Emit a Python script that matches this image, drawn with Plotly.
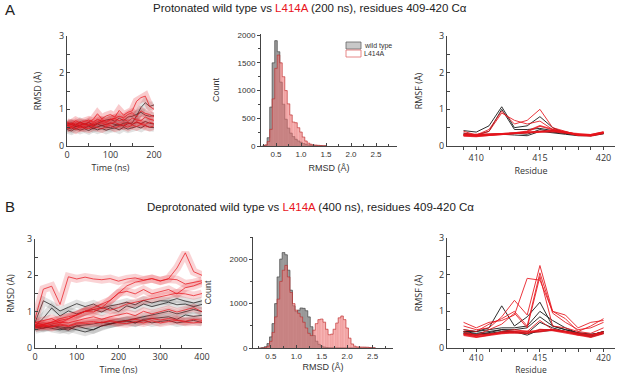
import plotly.graph_objects as go

# ---------------- data ----------------
TIME_A = [0, 10, 20, 30, 40, 50, 60, 70, 80, 90, 100, 110, 120, 130, 140, 150, 160, 170, 180, 190, 200]
RMSD_A_WT = [
    [0.50, 0.46, 0.53, 0.55, 0.49, 0.54, 0.48, 0.52, 0.56, 0.51, 0.50, 0.55, 0.59, 0.54, 0.61, 0.63, 0.82, 1.05, 1.18, 1.08, 1.12],
    [0.60, 0.63, 0.57, 0.66, 0.59, 0.64, 0.57, 0.63, 0.67, 0.71, 0.73, 0.67, 0.76, 0.69, 0.79, 0.81, 0.86, 0.92, 0.84, 0.81, 0.83],
    [0.45, 0.41, 0.48, 0.43, 0.47, 0.42, 0.49, 0.44, 0.48, 0.43, 0.47, 0.49, 0.44, 0.51, 0.46, 0.50, 0.53, 0.49, 0.56, 0.51, 0.50],
    [0.55, 0.59, 0.53, 0.57, 0.61, 0.56, 0.54, 0.60, 0.55, 0.59, 0.63, 0.59, 0.56, 0.62, 0.64, 0.59, 0.65, 0.61, 0.67, 0.62, 0.60],
]
RMSD_A_MUT = [
    [0.55, 0.61, 0.57, 0.63, 0.59, 0.66, 0.72, 0.88, 0.74, 0.82, 0.86, 0.79, 0.97, 0.84, 0.92, 0.96, 1.22, 1.32, 1.36, 1.08, 1.00],
    [0.50, 0.53, 0.56, 0.49, 0.54, 0.57, 0.61, 0.66, 0.71, 0.67, 0.73, 0.76, 0.81, 0.77, 0.86, 0.91, 0.79, 0.96, 0.89, 0.86, 0.80],
    [0.60, 0.57, 0.63, 0.55, 0.61, 0.57, 0.56, 0.61, 0.63, 0.57, 0.61, 0.64, 0.59, 0.57, 0.63, 0.59, 0.66, 0.61, 0.59, 0.65, 0.60],
    [0.48, 0.51, 0.45, 0.53, 0.49, 0.47, 0.53, 0.49, 0.47, 0.53, 0.56, 0.49, 0.54, 0.56, 0.51, 0.57, 0.53, 0.59, 0.54, 0.51, 0.55],
    [0.65, 0.61, 0.69, 0.63, 0.67, 0.71, 0.65, 0.73, 0.67, 0.64, 0.71, 0.75, 0.69, 0.73, 0.67, 0.76, 0.71, 0.69, 0.79, 0.73, 0.70],
]

TIME_B = [0, 20, 40, 60, 80, 100, 120, 140, 160, 180, 200, 220, 240, 260, 280, 300, 320, 340, 360, 380, 400]
RMSD_B_WT = [
    [0.70, 1.30, 1.18, 1.02, 1.12, 1.22, 1.14, 1.21, 1.09, 1.16, 1.20, 1.26, 1.19, 1.31, 1.24, 1.30, 1.29, 1.36, 1.29, 1.24, 1.30],
    [0.60, 0.82, 1.10, 0.88, 1.02, 0.94, 1.01, 1.06, 0.99, 1.11, 1.00, 1.16, 1.09, 1.21, 1.14, 1.21, 1.26, 1.19, 1.21, 1.14, 1.20],
    [0.50, 0.56, 0.61, 0.54, 0.49, 0.61, 0.54, 0.50, 0.61, 0.66, 0.71, 0.76, 0.81, 0.86, 0.91, 0.96, 1.01, 0.94, 1.01, 1.06, 1.00],
    [0.60, 0.54, 0.61, 0.57, 0.55, 0.61, 0.63, 0.66, 0.71, 0.67, 0.73, 0.76, 0.69, 0.79, 0.81, 0.83, 0.86, 0.79, 0.91, 0.87, 0.90],
    [0.55, 0.61, 0.54, 0.50, 0.56, 0.49, 0.44, 0.51, 0.61, 0.66, 0.71, 0.73, 0.69, 0.76, 0.69, 0.73, 0.76, 0.69, 0.73, 0.76, 0.70],
]
RMSD_B_MUT = [
    [0.80, 1.62, 1.70, 1.20, 1.96, 1.90, 1.95, 1.90, 1.88, 1.91, 1.84, 1.90, 1.93, 1.87, 1.91, 1.85, 1.90, 1.88, 1.76, 1.80, 1.85],
    [0.70, 0.76, 0.81, 0.69, 0.81, 0.91, 1.01, 1.06, 1.11, 1.31, 1.51, 1.71, 1.81, 1.86, 1.91, 1.84, 1.91, 2.20, 2.62, 2.10, 2.00],
    [0.60, 0.66, 0.71, 0.76, 0.81, 0.91, 1.01, 1.11, 1.21, 1.31, 1.51, 1.56, 1.49, 1.61, 1.49, 1.56, 1.61, 1.49, 1.66, 1.71, 1.80],
    [0.70, 0.64, 0.71, 0.81, 0.86, 0.91, 1.01, 0.99, 1.11, 1.04, 1.11, 1.21, 1.26, 1.31, 1.36, 1.41, 1.46, 1.51, 1.49, 1.44, 1.50],
    [0.65, 0.59, 0.66, 0.71, 0.69, 0.76, 0.81, 0.86, 0.79, 0.86, 0.91, 0.96, 0.89, 1.01, 0.94, 1.01, 1.06, 0.99, 1.06, 1.11, 1.00],
    [0.60, 0.63, 0.59, 0.66, 0.61, 0.69, 0.71, 0.73, 0.69, 0.76, 0.71, 0.76, 0.79, 0.74, 0.81, 0.77, 0.81, 0.77, 0.74, 0.79, 0.76],
    [0.55, 0.61, 0.57, 0.63, 0.59, 0.66, 0.67, 0.69, 0.71, 0.73, 0.69, 0.67, 0.73, 0.69, 0.75, 0.69, 0.73, 0.76, 0.71, 0.69, 0.72],
]

HIST_A_BINS = [0.25, 0.30, 0.35, 0.40, 0.45, 0.50, 0.55, 0.60, 0.65, 0.70, 0.75, 0.80, 0.85,
               0.90, 0.95, 1.00, 1.05, 1.10, 1.15, 1.20, 1.25, 1.30, 1.35, 1.40, 1.45, 1.50]
HIST_A_WT = [0, 10, 150, 700, 1500, 1900, 1700, 1150, 750, 480, 320, 230, 170,
             120, 90, 65, 45, 30, 20, 12, 8, 5, 3, 2, 1, 1]
HIST_A_MUT = [0, 20, 80, 300, 850, 1400, 1640, 1500, 1250, 1000, 760, 560, 430,
              420, 330, 250, 160, 90, 50, 30, 20, 15, 10, 8, 5, 5]

HIST_B_BINS = [0.30, 0.35, 0.40, 0.45, 0.50, 0.55, 0.60, 0.65, 0.70, 0.75, 0.80, 0.85, 0.90, 0.95,
               1.00, 1.05, 1.10, 1.15, 1.20, 1.25, 1.30, 1.35, 1.40, 1.45, 1.50, 1.55, 1.60, 1.65,
               1.70, 1.75, 1.80, 1.85, 1.90, 1.95, 2.00, 2.05, 2.10, 2.15, 2.20, 2.25, 2.30, 2.35,
               2.40, 2.45, 2.50, 2.55]
HIST_B_WT = [0, 5, 30, 100, 250, 550, 1000, 1600, 2000, 2150, 2100, 1750, 1300, 950,
             820, 850, 900, 890, 840, 700, 480, 280, 150, 80, 40, 20, 10, 5,
             3, 2, 1, 1, 0, 0, 0, 0, 0, 0, 0, 0, 0, 0,
             0, 0, 0, 0]
HIST_B_MUT = [0, 0, 10, 40, 150, 350, 700, 1100, 1500, 1750, 1860, 1600, 1250, 1000,
              850, 780, 700, 580, 450, 330, 280, 400, 550, 640, 650, 580, 420, 300,
              310, 420, 560, 680, 720, 640, 450, 220, 90, 40, 25, 20, 20, 18,
              15, 10, 5, 3]

RESIDUES = [409, 410, 411, 412, 413, 414, 415, 416, 417, 418, 419, 420]
RMSF_A_WT = [
    [0.42, 0.38, 0.55, 1.07, 0.50, 0.55, 0.80, 0.50, 0.35, 0.30, 0.30, 0.35],
    [0.35, 0.30, 0.40, 1.00, 0.45, 0.45, 0.48, 0.42, 0.35, 0.30, 0.28, 0.35],
    [0.30, 0.28, 0.30, 0.32, 0.30, 0.28, 0.40, 0.35, 0.32, 0.28, 0.28, 0.33],
    [0.32, 0.30, 0.32, 0.33, 0.35, 0.32, 0.45, 0.38, 0.35, 0.30, 0.30, 0.35],
]
RMSF_A_MUT = [
    [0.40, 0.30, 0.45, 0.95, 0.60, 0.70, 1.00, 0.50, 0.40, 0.30, 0.30, 0.38],
    [0.35, 0.30, 0.40, 0.90, 0.70, 0.60, 0.68, 0.45, 0.38, 0.30, 0.28, 0.36],
    [0.30, 0.28, 0.30, 0.32, 0.35, 0.40, 0.55, 0.45, 0.38, 0.30, 0.28, 0.35],
    [0.28, 0.26, 0.30, 0.32, 0.36, 0.38, 0.40, 0.42, 0.38, 0.30, 0.30, 0.38],
    [0.30, 0.30, 0.32, 0.33, 0.35, 0.36, 0.38, 0.40, 0.36, 0.32, 0.30, 0.37],
]
RMSF_B_WT = [
    [0.45, 0.45, 0.55, 1.15, 0.60, 0.85, 1.25, 0.60, 0.50, 0.40, 0.35, 0.45],
    [0.50, 0.45, 0.50, 0.55, 0.55, 0.60, 1.00, 0.75, 0.55, 0.40, 0.35, 0.45],
    [0.45, 0.40, 0.45, 0.50, 0.50, 0.55, 0.85, 0.60, 0.50, 0.42, 0.38, 0.42],
    [0.40, 0.35, 0.42, 0.50, 0.45, 0.40, 0.70, 0.55, 0.45, 0.40, 0.35, 0.40],
    [0.42, 0.38, 0.40, 0.45, 0.45, 0.35, 0.50, 0.50, 0.45, 0.38, 0.32, 0.45],
    [0.38, 0.35, 0.38, 0.42, 0.42, 0.40, 0.45, 0.48, 0.45, 0.38, 0.30, 0.40],
]
RMSF_B_MUT = [
    [0.70, 0.55, 0.70, 0.75, 0.90, 1.90, 1.85, 1.00, 0.90, 0.55, 0.70, 0.75],
    [0.60, 0.50, 0.55, 0.85, 1.30, 0.90, 2.25, 1.00, 0.80, 0.45, 0.60, 0.80],
    [0.50, 0.45, 0.65, 0.80, 1.00, 0.60, 2.05, 0.95, 0.70, 0.50, 0.55, 0.70],
    [0.45, 0.35, 0.50, 0.65, 0.95, 0.55, 1.95, 0.60, 0.55, 0.45, 0.40, 0.55],
    [0.40, 0.30, 0.35, 0.45, 0.50, 0.45, 0.75, 0.50, 0.45, 0.35, 0.35, 0.45],
    [0.35, 0.30, 0.35, 0.40, 0.42, 0.40, 0.50, 0.48, 0.42, 0.35, 0.30, 0.40],
    [0.38, 0.35, 0.38, 0.42, 0.45, 0.45, 0.45, 0.50, 0.45, 0.40, 0.35, 0.42],
]

# ---------------- figure ----------------
W, H = 617, 376
BLACK = "#1a1a1a"
RED = "#e8141c"

def px_x(a, b):
    return [a / W, b / W]

def px_y(top, bottom):
    return [1 - bottom / H, 1 - top / H]

fig = go.Figure()

def add_series(xs, ys, color, xa, ya, halo=True, width=0.8, opacity=0.9, halo_op=0.12):
    if halo:
        fig.add_trace(go.Scatter(x=xs, y=ys, mode="lines", line=dict(color=color, width=8),
                                 opacity=halo_op, xaxis=xa, yaxis=ya, showlegend=False, hoverinfo="skip"))
    fig.add_trace(go.Scatter(x=xs, y=ys, mode="lines", line=dict(color=color, width=width),
                             opacity=opacity, xaxis=xa, yaxis=ya, showlegend=False))

# A1
for s in RMSD_A_WT:
    add_series(TIME_A, s, BLACK, "x", "y", halo_op=0.12)
for s in RMSD_A_MUT:
    add_series(TIME_A, s, RED, "x", "y", halo_op=0.22)
# B1
for s in RMSD_B_WT:
    add_series(TIME_B, s, BLACK, "x4", "y4", halo_op=0.12)
for s in RMSD_B_MUT:
    add_series(TIME_B, s, RED, "x4", "y4", halo_op=0.18)

GRAY_FILL = "rgba(140,140,140,0.85)"
GRAY_LINE = "#4a4a4a"
RED_FILL = "rgba(238,115,115,0.55)"
RED_LINE = "rgba(190,40,40,0.85)"

def add_hist(bins, counts, fill, line, xa, ya):
    fig.add_trace(go.Scatter(x=bins, y=counts, mode="lines", line=dict(shape="hvh", color=line, width=0.7),
                             fill="tozeroy", fillcolor=fill, xaxis=xa, yaxis=ya, showlegend=False))
    fig.add_trace(go.Bar(x=bins, y=counts, width=0.05, marker=dict(color="rgba(0,0,0,0)",
                         line=dict(color=line, width=0.3)), opacity=0.5,
                         xaxis=xa, yaxis=ya, showlegend=False, hoverinfo="skip"))

add_hist(HIST_A_BINS, HIST_A_WT, GRAY_FILL, GRAY_LINE, "x2", "y2")
add_hist(HIST_A_BINS, HIST_A_MUT, RED_FILL, RED_LINE, "x2", "y2")
add_hist(HIST_B_BINS, HIST_B_WT, GRAY_FILL, GRAY_LINE, "x5", "y5")
add_hist(HIST_B_BINS, HIST_B_MUT, RED_FILL, RED_LINE, "x5", "y5")

# A3 / B3 RMSF
for s in RMSF_A_WT:
    add_series(RESIDUES, s, BLACK, "x3", "y3", halo=False, width=1.0)
for i, s in enumerate(RMSF_A_MUT):
    add_series(RESIDUES, s, RED, "x3", "y3", halo=False, width=1.8 if i >= 2 else 1.0, opacity=0.85)
for s in RMSF_B_WT:
    add_series(RESIDUES, s, BLACK, "x6", "y6", halo=False, width=1.0)
for i, s in enumerate(RMSF_B_MUT):
    add_series(RESIDUES, s, RED, "x6", "y6", halo=False, width=1.0 if i < 5 else 1.8, opacity=0.85)

TICKFONT = dict(family="Open Sans", size=9, color="#333")
HFONT = dict(family="Liberation Sans", size=8, color="#333")
TITLEFONT = dict(family="Open Sans", size=9, color="#333")
HTITLE = dict(family="Liberation Sans", size=9, color="#333")
AX = dict(showline=True, linecolor="#444", linewidth=1, showgrid=False, zeroline=False,
          ticks="outside", ticklen=3, tickcolor="#444", tickfont=TICKFONT, automargin=False)

layout_axes = dict(
    # A1
    xaxis=dict(AX, domain=px_x(67, 154), range=[0, 200], tickvals=[0, 100, 200], anchor="y",
               minor=dict(dtick=50, ticks="inside", ticklen=3, tickcolor="#444"), ticks="inside",
               title=dict(text="Time (ns)", font=TITLEFONT, standoff=2)),
    yaxis=dict(AX, domain=px_y(36, 146), range=[0, 3], tickvals=[0, 1, 2, 3], anchor="x",
               minor=dict(dtick=0.5, ticks="inside", ticklen=3, tickcolor="#444"), ticks="inside",
               title=dict(text="RMSD (Å)", font=TITLEFONT, standoff=15)),
    # A2
    xaxis2=dict(AX, domain=px_x(261, 397), range=[0.2, 2.92], tickvals=[0.5, 1.0, 1.5, 2.0, 2.5],
                ticktext=["0.5", "1.0", "1.5", "2.0", "2.5"], anchor="y2", tickfont=HFONT,
                ticks="inside", minor=dict(dtick=0.25, ticks="inside", ticklen=2, tickcolor="#444"),
                title=dict(text="RMSD (Å)", font=HTITLE, standoff=7)),
    yaxis2=dict(AX, domain=px_y(34, 146), range=[0, 2020], tickvals=[0, 500, 1000, 1500, 2000], anchor="x2",
                tickfont=HFONT, minor=dict(dtick=250, ticks="outside", ticklen=2, tickcolor="#444"),
                title=dict(text="Count", font=HTITLE, standoff=16)),
    # A3
    xaxis3=dict(AX, domain=px_x(447, 615), range=[407.7, 420.9], tickvals=[410, 415, 420], anchor="y3",
                minor=dict(tickvals=RESIDUES, ticks="outside", ticklen=3, tickcolor="#444"),
                title=dict(text="Residue", font=TITLEFONT, standoff=1)),
    yaxis3=dict(AX, domain=px_y(36, 146), range=[0, 3], tickvals=[0, 1, 2, 3], anchor="x3",
                minor=dict(dtick=0.5, ticks="inside", ticklen=3, tickcolor="#444"), ticks="inside",
                title=dict(text="RMSF (Å)", font=TITLEFONT, standoff=14)),
    # B1
    xaxis4=dict(AX, domain=px_x(35, 202), range=[0, 400], tickvals=[0, 100, 200, 300, 400], anchor="y4",
                minor=dict(dtick=50, ticks="inside", ticklen=3, tickcolor="#444"), ticks="inside",
                title=dict(text="Time (ns)", font=TITLEFONT, standoff=2)),
    yaxis4=dict(AX, domain=px_y(239, 348), range=[0, 3], tickvals=[0, 1, 2, 3], anchor="x4",
                minor=dict(dtick=0.5, ticks="inside", ticklen=3, tickcolor="#444"), ticks="inside",
                title=dict(text="RMSD (Å)", font=TITLEFONT, standoff=10)),
    # B2
    xaxis5=dict(AX, domain=px_x(253, 393), range=[0.15, 2.9], tickvals=[0.5, 1.0, 1.5, 2.0, 2.5],
                ticktext=["0.5", "1.0", "1.5", "2.0", "2.5"], anchor="y5", tickfont=HFONT,
                ticks="inside", minor=dict(dtick=0.25, ticks="inside", ticklen=2, tickcolor="#444"),
                title=dict(text="RMSD (Å)", font=HTITLE, standoff=4)),
    yaxis5=dict(AX, domain=px_y(237, 348), range=[0, 2500], tickvals=[0, 1000, 2000], anchor="x5",
                tickfont=HFONT, minor=dict(dtick=500, ticks="outside", ticklen=2, tickcolor="#444"),
                title=dict(text="Count", font=HTITLE, standoff=16)),
    # B3
    xaxis6=dict(AX, domain=px_x(447, 615), range=[407.7, 420.9], tickvals=[410, 415, 420], anchor="y6",
                minor=dict(tickvals=RESIDUES, ticks="outside", ticklen=3, tickcolor="#444"),
                tickfont=dict(family="Open Sans", size=8.5, color="#333"), ticklabelstandoff=-1,
                title=dict(text="Residue", font=dict(family="Open Sans", size=8.5, color="#333"), standoff=4)),
    yaxis6=dict(AX, domain=px_y(238, 348), range=[0, 3], tickvals=[0, 1, 2, 3], anchor="x6",
                minor=dict(dtick=0.5, ticks="inside", ticklen=3, tickcolor="#444"), ticks="inside",
                title=dict(text="RMSF (Å)", font=TITLEFONT, standoff=14)),
)

fig.update_layout(
    width=W, height=H,
    margin=dict(l=0, r=0, t=0, b=0),
    paper_bgcolor="white", plot_bgcolor="white",
    barmode="overlay", bargap=0,
    showlegend=False,
    **layout_axes,
)

# small legend in the A histogram panel
fig.add_shape(type="rect", xref="paper", yref="paper",
              x0=346 / W, x1=361 / W, y0=1 - 49 / H, y1=1 - 42 / H,
              fillcolor="#c8c8c8", line=dict(color="#666", width=0.8))
fig.add_shape(type="rect", xref="paper", yref="paper",
              x0=346 / W, x1=361 / W, y0=1 - 57 / H, y1=1 - 50 / H,
              fillcolor="white", line=dict(color="#e06a6a", width=0.8))
LFONT = dict(family="Liberation Sans", size=7, color="#333")
fig.add_annotation(x=362 / W, y=1 - 45.5 / H, xref="paper", yref="paper", showarrow=False,
                   text="wild type", font=LFONT, xanchor="left", yanchor="middle")
fig.add_annotation(x=362 / W, y=1 - 53.5 / H, xref="paper", yref="paper", showarrow=False,
                   text="L414A", font=LFONT, xanchor="left", yanchor="middle")

TFONT = dict(family="Liberation Sans", size=11.5, color="#222")
fig.add_annotation(x=310 / W, y=1 - 8 / H, xref="paper", yref="paper", showarrow=False,
                   text="Protonated wild type vs <span style='color:#e8141c'>L414A</span> (200 ns), residues 409-420 Cα",
                   font=TFONT, xanchor="center", yanchor="middle")
fig.add_annotation(x=310 / W, y=1 - 207 / H, xref="paper", yref="paper", showarrow=False,
                   text="Deprotonated wild type vs <span style='color:#e8141c'>L414A</span> (400 ns), residues 409-420 Cα",
                   font=TFONT, xanchor="center", yanchor="middle")
fig.add_annotation(x=3 / W, y=1 - 10 / H, xref="paper", yref="paper", showarrow=False, text="A",
                   font=dict(family="Liberation Sans", size=15, color="#222"), xanchor="left", yanchor="middle")
fig.add_annotation(x=3 / W, y=1 - 207 / H, xref="paper", yref="paper", showarrow=False, text="B",
                   font=dict(family="Liberation Sans", size=15, color="#222"), xanchor="left", yanchor="middle")

fig.write_html("out.html", config={"displayModeBar": False},
               post_script="document.body.style.margin='0';document.body.style.padding='0';"
                           "document.body.style.overflow='hidden';")
